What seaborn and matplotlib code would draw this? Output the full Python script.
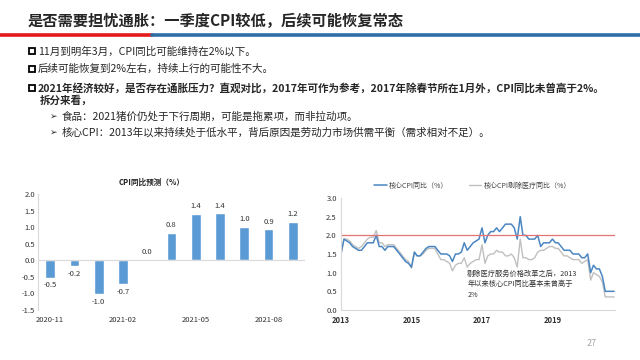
import numpy as np
import pandas as pd
import matplotlib
matplotlib.use("Agg")
import matplotlib.pyplot as plt
import matplotlib.dates as mdates
from matplotlib.lines import Line2D
from matplotlib.patches import Rectangle
import seaborn as sns

# ---------------- data ----------------
title = "是否需要担忧通胀：一季度CPI较低，后续可能恢复常态"
bullets = [
    "11月到明年3月，CPI同比可能维持在2%以下。",
    "后续可能恢复到2%左右，持续上行的可能性不大。",
    "2021年经济较好，是否存在通胀压力？直观对比，2017年可作为参考，2017年除春节所在1月外，CPI同比未曾高于2%。",
]
bullet3_cont = "拆分来看，"
sub_bullets = [
    "食品：2021猪价仍处于下行周期，可能是拖累项，而非拉动项。",
    "核心CPI：2013年以来持续处于低水平，背后原因是劳动力市场供需平衡（需求相对不足）。",
]

months = ["2020-11", "2020-12", "2021-01", "2021-02", "2021-03", "2021-04",
          "2021-05", "2021-06", "2021-07", "2021-08", "2021-09"]
cpi_forecast = [-0.52, -0.18, -1.02, -0.72, 0.03, 0.83, 1.40, 1.42, 1.01, 0.93, 1.17]
bar_ticks = ["2020-11", "2021-02", "2021-05", "2021-08"]

core_cpi = [
    1.5, 1.9, 1.85, 1.8, 1.7, 1.65, 1.6, 1.6, 1.7, 1.8, 1.8, 1.8,
    2.0, 1.7, 1.7, 1.6, 1.7, 1.7, 1.7, 1.6, 1.5, 1.4, 1.3, 1.25,
    1.15, 1.55, 1.45, 1.45, 1.55, 1.65, 1.7, 1.7, 1.7, 1.6, 1.5, 1.5,
    1.5, 1.45, 1.3, 1.5, 1.5, 1.55, 1.8, 1.6, 1.7, 1.8, 1.85, 1.9,
    2.2, 1.8, 2.0, 2.1, 2.1, 2.2, 2.1, 2.2, 2.3, 2.3, 2.3, 2.2,
    1.9, 2.5, 2.0, 2.0, 1.9, 1.9, 1.9, 2.0, 1.7, 1.8, 1.8, 1.8,
    1.9, 1.8, 1.8, 1.7, 1.6, 1.6, 1.6, 1.5, 1.5, 1.5, 1.4, 1.4,
    1.5, 1.0, 1.2, 1.1, 1.1, 0.9, 0.5, 0.5, 0.5, 0.5,
]
core_ex_medical = [
    1.5, 1.9, 1.9, 1.85, 1.75, 1.7, 1.65, 1.7, 1.8, 1.9, 1.95, 1.95,
    2.13, 1.8, 1.8, 1.7, 1.75, 1.75, 1.75, 1.65, 1.55, 1.45, 1.35, 1.3,
    1.12, 1.55, 1.45, 1.45, 1.5, 1.6, 1.65, 1.65, 1.65, 1.5, 1.35, 1.35,
    1.3, 1.25, 1.05, 1.2, 1.25, 1.25, 1.4, 1.15, 1.25, 1.3, 1.35, 1.35,
    1.75, 1.25, 1.45, 1.5, 1.5, 1.6, 1.55, 1.55, 1.45, 1.45, 1.5, 1.4,
    1.15, 1.9, 1.4, 1.4, 1.35, 1.35, 1.4, 1.55, 1.6, 1.6, 1.65, 1.7,
    1.7, 1.65, 1.65, 1.55, 1.45, 1.45, 1.4, 1.35, 1.35, 1.35, 1.25, 1.3,
    1.35, 0.8, 1.0, 0.95, 0.9, 0.75, 0.35, 0.35, 0.35, 0.35,
]
line_start = "2013-01-01"
year_ticks = ["2013", "2015", "2017", "2019"]
labels_line = ["核心CPI同比（%）", "核心CPI剔除医疗同比（%）"]
note = "剔除医疗服务价格改革之后，2013\n年以来核心CPI同比基本未曾高于\n2%"

# ---------------- style ----------------
sns.set_theme(style="white")
plt.rcParams["font.family"] = ["Noto Sans CJK SC", "DejaVu Sans"]
plt.rcParams["axes.unicode_minus"] = False

W, H = 640, 360
fig = plt.figure(figsize=(6.4, 3.6), dpi=100)
fig.patch.set_facecolor("white")

def fx(x):
    return x / W

def fy(y):
    return 1 - y / H

# header
fig.text(fx(28), fy(21), title, fontsize=11, fontweight="bold", va="center", ha="left")
fig.add_artist(Line2D([0, fx(152)], [fy(35), fy(35)], color="#E3191B", lw=2.6,
                      transform=fig.transFigure))
fig.add_artist(Line2D([fx(152), 1], [fy(35), fy(35)], color="#2F6EA5", lw=2.6,
                      transform=fig.transFigure))

# bullets
bullet_y = [51, 69, 88]
for i, (txt, y) in enumerate(zip(bullets, bullet_y)):
    fig.add_artist(Rectangle((fx(28.5), fy(y + 3)), fx(6), 6 / H, fill=False,
                             edgecolor="black", lw=1.3, transform=fig.transFigure))
    fig.text(fx(38), fy(y), txt, fontsize=7.6, va="center", ha="left",
             fontweight="bold" if i == 2 else "normal")
fig.text(fx(40), fy(101), bullet3_cont, fontsize=7.6, va="center", ha="left", fontweight="bold")
for txt, y in zip(sub_bullets, [116, 132]):
    fig.text(fx(50), fy(y), "➢", fontsize=6.5, va="center", ha="left", family=["DejaVu Sans"])
    fig.text(fx(62), fy(y), txt, fontsize=7.6, va="center", ha="left")

# ---------------- left: bar chart ----------------
ax1 = fig.add_axes([fx(38), fy(310), fx(267), 116 / H])
df_bar = pd.DataFrame({"month": months, "value": cpi_forecast})
sns.barplot(data=df_bar, x="month", y="value", color="#5B9BD5", width=0.4,
            saturation=1, ax=ax1)
ax1.bar_label(ax1.containers[0], fmt="%.1f", padding=2.5, fontsize=5.5, color="#333333")
ax1.set_ylim(-1.5, 2.0)
ax1.set_xlim(-0.5, len(months) - 0.5)
ax1.set_yticks(np.arange(-1.5, 2.01, 0.5))
ax1.set_yticklabels([f"{v:.1f}" for v in np.arange(-1.5, 2.01, 0.5)], fontsize=5.5, color="#333333")
ax1.set_xticks([months.index(m) for m in bar_ticks])
ax1.set_xticklabels(bar_ticks, fontsize=5.5, color="#333333")
ax1.tick_params(axis="both", length=0, pad=2)
ax1.tick_params(axis="x", pad=4)
ax1.set_xlabel("")
ax1.set_ylabel("")
ax1.axhline(0, color="#D9D9D9", lw=0.8)
for s in ["top", "right", "bottom"]:
    ax1.spines[s].set_visible(False)
ax1.spines["left"].set_color("#D9D9D9")
ax1.spines["left"].set_linewidth(0.8)
fig.text(fx(152), fy(182), "CPI同比预测（%）", fontsize=5.5, fontweight="bold",
         ha="center", va="center", color="#222222")

# ---------------- right: line chart ----------------
ax2 = fig.add_axes([fx(341), fy(310), fx(274), 112 / H])
dates = pd.date_range(line_start, periods=len(core_cpi), freq="MS")
df_line = pd.DataFrame({"date": dates, "core": core_cpi, "ex": core_ex_medical})
sns.lineplot(data=df_line, x="date", y="ex", color="#C0C0C0", lw=1.0, ax=ax2, label=labels_line[1])
sns.lineplot(data=df_line, x="date", y="core", color="#4A86C2", lw=1.1, ax=ax2, label=labels_line[0])
ax2.axhline(2.0, color="#E57373", lw=0.9)
ax2.set_ylim(0, 3.0)
ax2.set_xlim(pd.Timestamp("2013-01-01"), pd.Timestamp("2020-10-10"))
ax2.set_yticks(np.arange(0, 3.01, 0.5))
ax2.set_yticklabels([f"{v:.1f}" for v in np.arange(0, 3.01, 0.5)], fontsize=5.5, color="#333333")
ax2.set_xticks([pd.Timestamp(y + "-01-01") for y in year_ticks])
ax2.set_xticklabels(year_ticks, fontsize=5.5, fontweight="bold", color="#333333")
ax2.tick_params(axis="x", length=2, width=0.6, color="#D9D9D9", pad=2)
ax2.tick_params(axis="y", length=0, pad=3)
ax2.set_xlabel("")
ax2.set_ylabel("")
for s in ["top", "right"]:
    ax2.spines[s].set_visible(False)
for s in ["left", "bottom"]:
    ax2.spines[s].set_color("#D9D9D9")
    ax2.spines[s].set_linewidth(0.8)
handles, labels = ax2.get_legend_handles_labels()
ax2.legend(handles[::-1], labels[::-1], loc="center", bbox_to_anchor=(0.48, 1.11), ncol=2,
           frameon=False, fontsize=5, handlelength=1.8, columnspacing=3.0,
           handletextpad=0.3, labelcolor="#444444")
ax2.text(pd.Timestamp("2016-08-01"), 1.08, note, fontsize=5.2, color="#333333",
         va="top", ha="left", linespacing=1.45)

fig.text(fx(592), fy(343), "27", fontsize=6.5, color="#A6A6A6", ha="center", va="center")

fig.savefig("out.png", dpi=100)
